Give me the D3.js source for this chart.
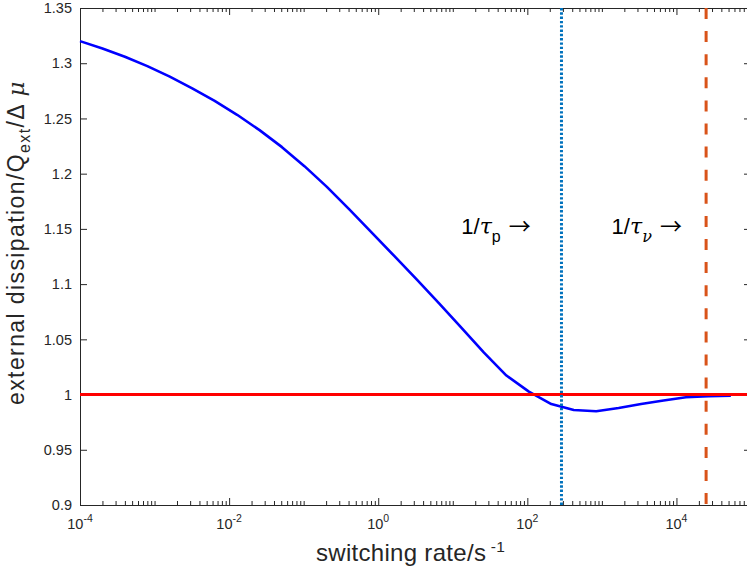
<!DOCTYPE html>
<html>
<head>
<meta charset="utf-8">
<script src="https://cdn.jsdelivr.net/npm/d3@7"></script>
<style>
  html, body { margin: 0; padding: 0; background: #fff; overflow: hidden; }
  svg { display: block; }
  text { font-family: "Liberation Sans", Arial, Helvetica, sans-serif; fill: #262626; }
</style>
</head>
<body>
<svg id="chart" width="747" height="575"></svg>
<script>
// Switching rate samples (s^-1)
const rates = [
  1e-4, 2e-4, 4e-4, 8e-4, 1.6e-3, 3.2e-3, 6.4e-3, 0.0128, 0.0256, 0.0512,
  0.1024, 0.2048, 0.4096, 0.8192, 1.6384, 3.2768, 6.5536, 13.1072, 26.2144, 52.4288,
  104.8576, 209.7152, 419.4304, 838.8608, 1677.7216, 3355.4432, 6710.8864,
  13421.7728, 26843.5456, 53687.0912
];
// External dissipation normalised by Q_ext * delta-mu
const dissipation = [
  1.3200, 1.3134, 1.3059, 1.2974, 1.2878, 1.2773, 1.2659, 1.2533, 1.2394, 1.2240,
  1.2068, 1.1880, 1.1677, 1.1467, 1.1255, 1.1042, 1.0826, 1.0604, 1.0380, 1.0172,
  1.0027, 0.9914, 0.9860, 0.9849, 0.9878, 0.9914, 0.9946, 0.9976, 0.9984, 0.9989
];
// Reference level and characteristic rates
const referenceLevel = 1;
const rateTauP = 287;
const rateTauNu = 25000;

// Axis ticks
const xTickExponents = [-4, -2, 0, 2, 4];
const yTicks = [0.9, 0.95, 1, 1.05, 1.1, 1.15, 1.2, 1.25, 1.3, 1.35];
const yTickLabels = ["0.9", "0.95", "1", "1.05", "1.1", "1.15", "1.2", "1.25", "1.3", "1.35"];

const svg = d3.select("#chart");
const plotLeft = 80, plotRight = 751, plotTop = 8, plotBottom = 505;

const x = d3.scaleLog().domain([1e-4, 1e5]).range([plotLeft, plotRight]);
const y = d3.scaleLinear().domain([0.9, 1.35]).range([plotBottom, plotTop]);

const axisColor = "#262626";

// minor ticks: every integer multiple inside each decade, except labelled decades
const minorTicks = [];
for (let e = -4; e < 5; e++) {
  for (let m = 1; m < 10; m++) {
    if (m === 1 && xTickExponents.includes(e)) continue;
    minorTicks.push(m * Math.pow(10, e));
  }
}
const majorTicks = xTickExponents.map(e => Math.pow(10, e));

const axes = svg.append("g");

function styleAxis(g) {
  g.select(".domain").attr("stroke", axisColor).attr("stroke-width", 1);
  g.selectAll(".tick line").attr("stroke", axisColor).attr("stroke-width", 1);
  g.selectAll(".tick text").remove();
}

// bottom axis, ticks pointing in
axes.append("g").attr("transform", `translate(0,${plotBottom})`)
  .call(d3.axisBottom(x).tickValues(minorTicks).tickSize(-4).tickSizeOuter(0).tickFormat(""))
  .call(styleAxis);
axes.append("g").attr("transform", `translate(0,${plotBottom})`)
  .call(d3.axisBottom(x).tickValues(majorTicks).tickSize(-7).tickSizeOuter(0).tickFormat(""))
  .call(g => { g.select(".domain").remove(); styleAxis(g); });
// top axis
axes.append("g").attr("transform", `translate(0,${plotTop})`)
  .call(d3.axisTop(x).tickValues(minorTicks).tickSize(-4).tickSizeOuter(0).tickFormat(""))
  .call(styleAxis);
axes.append("g").attr("transform", `translate(0,${plotTop})`)
  .call(d3.axisTop(x).tickValues(majorTicks).tickSize(-7).tickSizeOuter(0).tickFormat(""))
  .call(g => { g.select(".domain").remove(); styleAxis(g); });
// left and right axes
axes.append("g").attr("transform", `translate(${plotLeft},0)`)
  .call(d3.axisLeft(y).tickValues(yTicks).tickSize(-7).tickSizeOuter(0).tickFormat(""))
  .call(styleAxis);
axes.append("g").attr("transform", `translate(${plotRight},0)`)
  .call(d3.axisRight(y).tickValues(yTicks).tickSize(-7).tickSizeOuter(0).tickFormat(""))
  .call(styleAxis);

// y tick labels
svg.append("g").selectAll("text").data(yTicks).join("text")
  .attr("x", plotLeft - 8)
  .attr("y", d => y(d))
  .attr("dy", "0.36em")
  .attr("text-anchor", "end")
  .attr("font-size", 14.5)
  .text((d, i) => yTickLabels[i]);

// x tick labels: 10 with superscript exponent
const xl = svg.append("g").selectAll("text").data(xTickExponents).join("text")
  .attr("x", d => x(Math.pow(10, d)))
  .attr("y", 529)
  .attr("text-anchor", "middle")
  .attr("font-size", 14.5);
xl.append("tspan").text("10");
xl.append("tspan").attr("font-size", 10.5).attr("dy", -7.5).text(d => d < 0 ? "-" + (-d) : String(d));

// data curve
const line = d3.line().x(d => x(d[0])).y(d => y(d[1]));
svg.append("path")
  .datum(rates.map((r, i) => [r, dissipation[i]]))
  .attr("fill", "none")
  .attr("stroke", "#0000ff")
  .attr("stroke-width", 2.6)
  .attr("stroke-linejoin", "round")
  .attr("d", line);

// reference level
svg.append("line")
  .attr("x1", x(1e-4)).attr("x2", x(1e5))
  .attr("y1", y(referenceLevel)).attr("y2", y(referenceLevel))
  .attr("stroke", "#ff0000").attr("stroke-width", 3);

// characteristic rates
svg.append("line")
  .attr("x1", x(rateTauP)).attr("x2", x(rateTauP))
  .attr("y1", y(1.35)).attr("y2", y(0.9))
  .attr("stroke", "#0072bd").attr("stroke-width", 3)
  .attr("stroke-dasharray", "2.4,1.9");
svg.append("line")
  .attr("x1", x(rateTauNu)).attr("x2", x(rateTauNu))
  .attr("y1", y(1.35)).attr("y2", y(0.9))
  .attr("stroke", "#d95319").attr("stroke-width", 3)
  .attr("stroke-dasharray", "11,12.1");

// annotations
function tauLabel(xv, yv, sub) {
  const t = svg.append("text")
    .attr("x", x(xv)).attr("y", y(yv))
    .attr("font-size", 22).style("fill", "#000");
  t.append("tspan").text("1/");
  t.append("tspan").attr("font-style", "italic").attr("font-family", "'DejaVu Serif', serif").text("τ");
  const s = t.append("tspan").attr("font-size", 16).attr("dy", 8).text(sub);
  if (sub === "ν") s.attr("font-style", "italic").attr("font-family", "'DejaVu Serif', serif");
  t.append("tspan").attr("dy", -8).text(" ");
  t.append("tspan").attr("font-family", "'Noto Sans CJK SC', sans-serif").attr("font-size", 22).attr("dx", 2).text("→");
}
tauLabel(13, 1.145, "p");
tauLabel(1350, 1.145, "ν");

// axis titles
const xt = svg.append("text").attr("x", 316).attr("y", 561)
  .attr("font-size", 24).attr("letter-spacing", 0.3);
xt.append("tspan").text("switching rate/s");
xt.append("tspan").attr("font-size", 15.5).attr("dy", -9).text(" -1");

const yt = svg.append("text")
  .attr("transform", "translate(24,405) rotate(-90)")
  .attr("font-size", 23).attr("letter-spacing", 1.4);
yt.append("tspan").text("external dissipation/Q");
yt.append("tspan").attr("font-size", 16).attr("dy", 6).text("ext");
yt.append("tspan").attr("dy", -6).text("/Δ ");
yt.append("tspan").attr("font-style", "italic").attr("font-family", "'DejaVu Serif', serif").text("μ");
</script>
</body>
</html>
